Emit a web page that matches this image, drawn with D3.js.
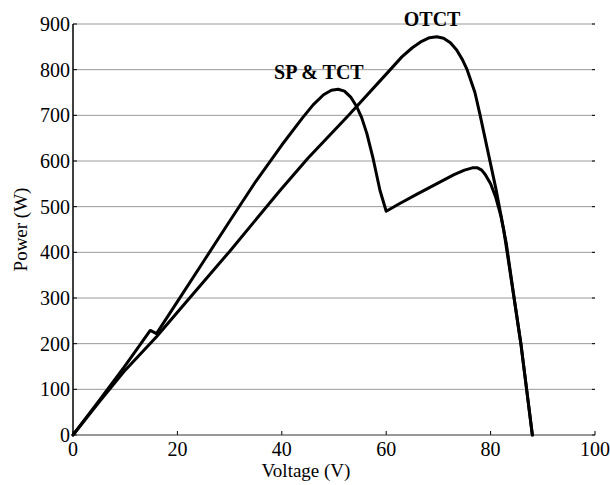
<!DOCTYPE html>
<html>
<head>
<meta charset="utf-8">
<script src="https://cdn.jsdelivr.net/npm/d3@7"></script>
<style>
  body { margin: 0; background: #fff; }
  text { font-family: "Liberation Serif", "Times New Roman", serif; fill: #000; }
</style>
</head>
<body>
<div id="chart"></div>
<script>
// P-V curves (voltage in V, power in W)
const spVoltage = [0, 5, 10, 13, 14.8, 16, 20, 25, 30, 35, 40, 44, 46, 48, 49.5, 50.8, 52, 53.2, 54.3, 55.3, 56.3, 57.5, 58.8, 60,
    62.6, 66, 70, 73, 75, 76.5, 77.5, 78.3, 79, 80, 81, 82, 83, 84.5, 85.8, 86.9, 88];
const spPower = [0, 75, 152, 200, 229, 222, 292, 380, 468, 555, 635, 695, 723, 745, 755, 757, 753, 740, 720, 695, 660, 605, 536, 490,
    507, 528, 552, 570, 580, 585, 585, 580, 570, 550, 520, 478, 420, 300, 200, 100, 0];

const otctVoltage = [0, 5, 10, 16, 20, 30, 39.7, 45, 52.8, 60.7, 63, 65, 66.8, 68.3, 69.7, 71, 72.3, 73.5, 74.6, 75.5,
    77, 78, 79.5, 81, 82.5, 84.5, 85.8, 86.9, 88];
const otctPower = [0, 72, 142, 215, 269, 402, 536, 606, 700, 799, 828, 848, 862, 870, 872, 869, 859, 843, 822, 800,
    750, 700, 620, 540, 450, 300, 200, 100, 0];

const xTicks = [0, 20, 40, 60, 80, 100];
const yTicks = [0, 100, 200, 300, 400, 500, 600, 700, 800, 900];

const width = 610, height = 485,
    margin = { top: 24, right: 15, bottom: 50, left: 73 };

const svg = d3.select('#chart')
    .append('svg')
    .attr('width', width)
    .attr('height', height);

const x = d3.scaleLinear().domain([0, 100]).range([margin.left, width - margin.right]);
const y = d3.scaleLinear().domain([0, 900]).range([height - margin.bottom, margin.top]);

// horizontal grid
svg.append('g')
    .selectAll('line')
    .data(yTicks.filter(d => d > 0))
    .join('line')
    .attr('x1', x(0)).attr('x2', x(100))
    .attr('y1', d => y(d)).attr('y2', d => y(d))
    .attr('stroke', '#9a9a9a')
    .attr('stroke-width', 1);

// tick marks (inward)
svg.append('g')
    .selectAll('line')
    .data(yTicks)
    .join('line')
    .attr('x1', x(0)).attr('x2', x(0) + 4)
    .attr('y1', d => y(d)).attr('y2', d => y(d))
    .attr('stroke', '#000');
svg.append('g')
    .selectAll('line')
    .data(yTicks)
    .join('line')
    .attr('x1', x(100) - 3).attr('x2', x(100))
    .attr('y1', d => y(d)).attr('y2', d => y(d))
    .attr('stroke', '#000');
svg.append('g')
    .selectAll('line')
    .data(xTicks)
    .join('line')
    .attr('x1', d => x(d)).attr('x2', d => x(d))
    .attr('y1', y(0)).attr('y2', y(0) - 4)
    .attr('stroke', '#000');

// axis lines
svg.append('line')
    .attr('x1', x(0)).attr('x2', x(100))
    .attr('y1', y(0)).attr('y2', y(0))
    .attr('stroke', '#333').attr('stroke-width', 1);
svg.append('line')
    .attr('x1', x(0)).attr('x2', x(0))
    .attr('y1', y(0)).attr('y2', y(900))
    .attr('stroke', '#000').attr('stroke-width', 1.5);

// tick labels
svg.append('g')
    .selectAll('text')
    .data(yTicks)
    .join('text')
    .attr('x', x(0) - 3)
    .attr('y', d => y(d))
    .attr('dy', '0.35em')
    .attr('text-anchor', 'end')
    .style('font-size', '20px')
    .text(d => d);
svg.append('g')
    .selectAll('text')
    .data(xTicks)
    .join('text')
    .attr('x', d => x(d))
    .attr('y', y(0) + 21)
    .attr('text-anchor', 'middle')
    .style('font-size', '20px')
    .text(d => d);

// axis titles
svg.append('text')
    .attr('x', x(50) - 28)
    .attr('y', 477)
    .attr('text-anchor', 'middle')
    .style('font-size', '19px')
    .text('Voltage (V)');
svg.append('text')
    .attr('transform', `translate(27,${y(450)}) rotate(-90)`)
    .attr('text-anchor', 'middle')
    .style('font-size', '19px')
    .text('Power (W)');

// curves
const line = d3.line()
    .x(d => x(d[0]))
    .y(d => y(d[1]));

const series = [
    d3.zip(spVoltage, spPower),
    d3.zip(otctVoltage, otctPower)
];

svg.append('g')
    .selectAll('path')
    .data(series)
    .join('path')
    .attr('d', line)
    .attr('fill', 'none')
    .attr('stroke', '#000')
    .attr('stroke-width', 3)
    .attr('stroke-linejoin', 'round')
    .attr('stroke-linecap', 'round');

// curve labels
svg.append('text')
    .attr('x', x(47.1)).attr('y', y(779))
    .attr('text-anchor', 'middle')
    .style('font-size', '20px')
    .style('font-weight', 'bold')
    .text('SP & TCT');
svg.append('text')
    .attr('x', x(68.8)).attr('y', y(895))
    .attr('text-anchor', 'middle')
    .style('font-size', '20px')
    .style('font-weight', 'bold')
    .text('OTCT');
</script>
</body>
</html>
